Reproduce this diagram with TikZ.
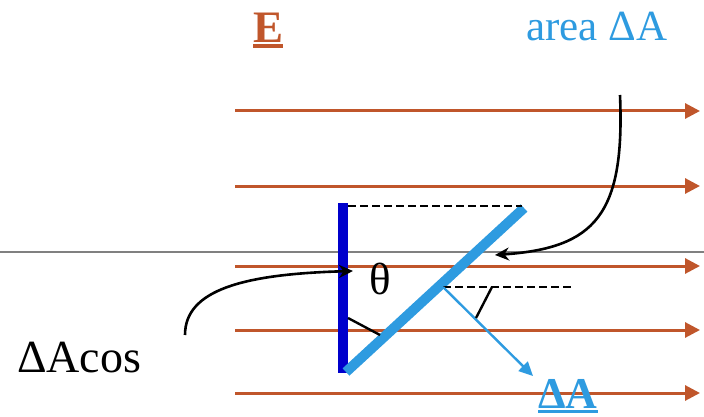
\documentclass[tikz,border=0pt]{standalone}
\usepackage{fontspec}
\setmainfont{Liberation Serif}
\usetikzlibrary{arrows.meta}
\definecolor{fieldc}{HTML}{C0562B}
\definecolor{areac}{HTML}{2E9BE0}
\definecolor{platec}{HTML}{0000CC}
\newcommand{\undertext}[1]{\leavevmode\vtop{\hbox{#1}\kern1.5pt\hrule height 3.5pt}}

\begin{document}
\begin{tikzpicture}[x=1pt,y=-1pt,
                    field/.style={fieldc, line width=3pt, -{Triangle[length=15pt,width=15pt]}},
                    pointer/.style={black, line width=2.6pt, -{Stealth[length=14pt,width=13pt]}},
                    guide/.style={black, line width=2.4pt, dash pattern=on 8pt off 4pt},
                    lbl/.style={inner sep=0pt, anchor=base west, font=\fontsize{44}{50}\selectfont}]
  \useasboundingbox (0,0) rectangle (704,417);
  % thin gray line across
  \draw[gray, line width=1.2pt] (0,252) -- (704,252);
  % field lines E
  \foreach \y [count=\i] in {111,186,266,330,393}{
    \coordinate (fs\i) at (235,\y); \coordinate (fe\i) at (700,\y);
    \draw[field] (fs\i) -- (fe\i);}
  % projected area (vertical) and tilted area
  \coordinate (bartop) at (343,203); \coordinate (barbot) at (343,373);
  \coordinate (tiltlo) at (346,372); \coordinate (tilthi) at (524,208);
  \draw[platec, line width=10pt] (bartop) -- (barbot);
  \draw[areac, line width=10pt] (tiltlo) -- (tilthi);
  % dashed guides
  \coordinate (topl) at (348,206); \coordinate (topr) at (522,206);
  \coordinate (midl) at (443,287); \coordinate (midr) at (572,287);
  \draw[guide] (topl) -- (topr);
  \draw[guide] (midl) -- (midr);
  % normal vector
  \coordinate (normtip) at (533,376);
  \draw[areac, line width=2.4pt, -{Triangle[length=14pt,width=13pt]}] (midl) -- (normtip);
  % angle marks
  \coordinate (ma1) at (348,318); \coordinate (mb1) at (380,335);
  \coordinate (ma2) at (492,287); \coordinate (mb2) at (476,318);
  \draw[black, line width=2.4pt] (ma1) -- (mb1);
  \draw[black, line width=2.4pt] (ma2) -- (mb2);
  \node[inner sep=0pt, font=\fontsize{45}{50}\selectfont] (thetalbl) at (380,279) {θ};
  % labels
  \node[lbl, fieldc, font=\fontsize{45}{50}\selectfont\bfseries] (fieldlbl) at (253,43) {\undertext{E}};
  \node[lbl, areac, font=\fontsize{43}{50}\selectfont] (arealbl) at (526,41) {area ΔA};
  \node[lbl, font=\fontsize{46}{50}\selectfont] (projlbl) at (17,372) {ΔAcos};
  \node[lbl, areac, font=\fontsize{44}{50}\selectfont\bfseries] (normallbl) at (538,408) {\undertext{ΔA}};
  % pointers
  \coordinate (projtail) at (185,335); \coordinate (projtip) at (353,271);
  \coordinate (areatail) at (620,95);  \coordinate (areatip) at (495,255);
  \draw[pointer] (projtail) .. controls +(0,-45) and +(-110,3) .. (projtip);
  \draw[pointer] (areatail) .. controls +(5,120) and +(100,-7) .. (areatip);
\end{tikzpicture}
\end{document}
